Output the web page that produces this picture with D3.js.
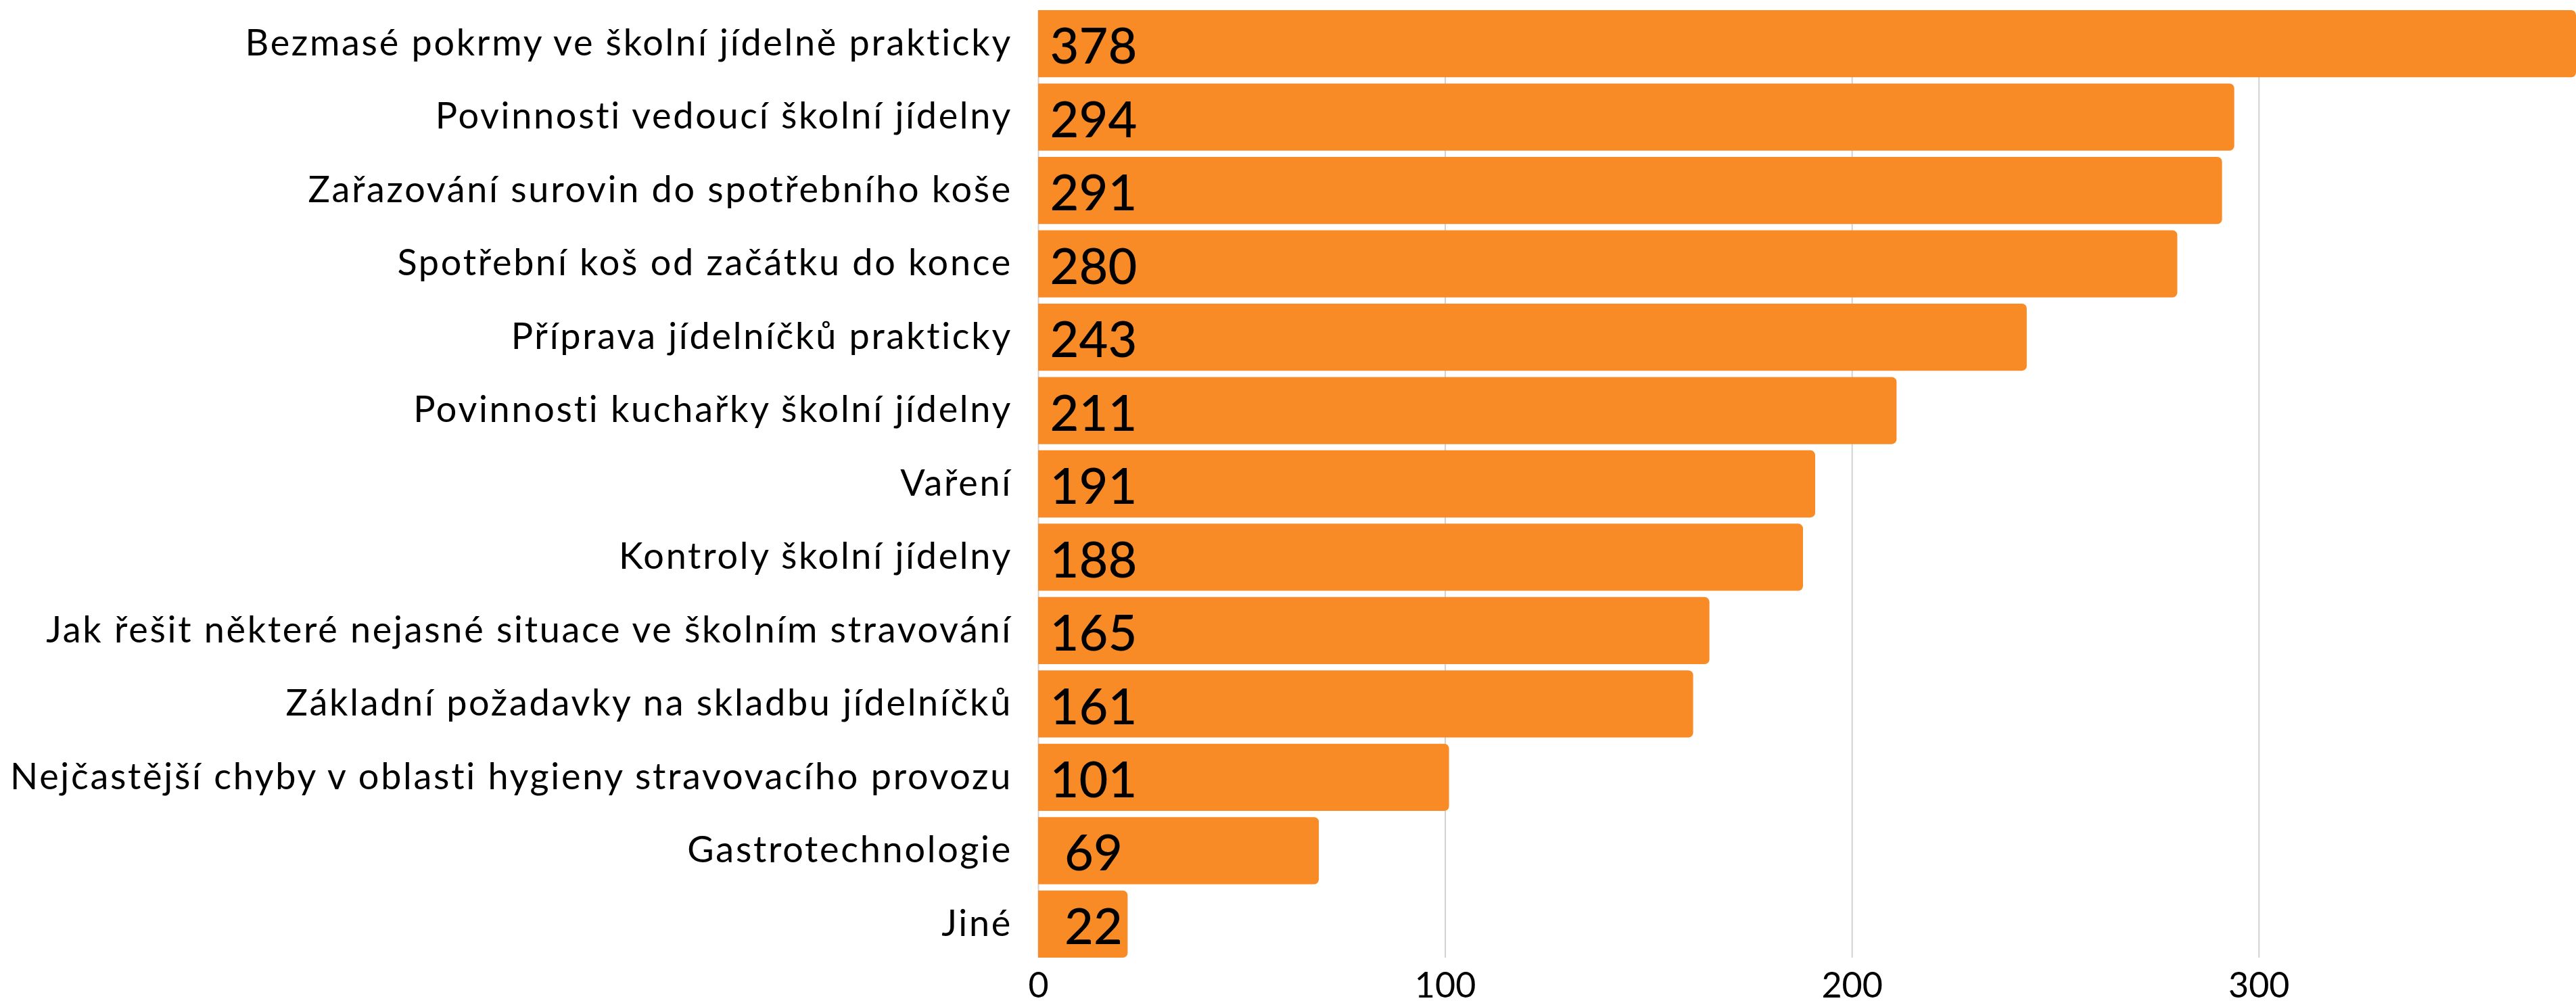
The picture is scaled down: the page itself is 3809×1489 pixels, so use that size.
<!DOCTYPE html>
<html><head><meta charset="utf-8">
<script src="https://cdn.jsdelivr.net/npm/d3@7/dist/d3.min.js"></script>
<style>body{margin:0;background:#fff;} svg{display:block}</style>
</head><body>
<script>
const categories = [
  "Bezmasé pokrmy ve školní jídelně prakticky",
  "Povinnosti vedoucí školní jídelny",
  "Zařazování surovin do spotřebního koše",
  "Spotřební koš od začátku do konce",
  "Příprava jídelníčků prakticky",
  "Povinnosti kuchařky školní jídelny",
  "Vaření",
  "Kontroly školní jídelny",
  "Jak řešit některé nejasné situace ve školním stravování",
  "Základní požadavky na skladbu jídelníčků",
  "Nejčastější chyby v oblasti hygieny stravovacího provozu",
  "Gastrotechnologie",
  "Jiné"
];
const values = [378, 294, 291, 280, 243, 211, 191, 188, 165, 161, 101, 69, 22];
const tickValues = [0, 100, 200, 300];

const W = 3809, H = 1489;
const FONT = "Lato, 'Open Sans', sans-serif";
const svg = d3.select("body").append("svg").attr("width", W).attr("height", H);

const x = d3.scaleLinear().domain([0, 378]).range([1535, 3809]);
const y = d3.scaleBand().domain(categories).range([15, 1416]).paddingInner(0.085).paddingOuter(0);

// gridlines
const grid = svg.append("g").attr("transform", `translate(0,${y.range()[1]})`)
  .call(d3.axisBottom(x).tickValues(tickValues).tickSize(-(y.range()[1] - y.range()[0])).tickFormat(""));
grid.select(".domain").remove();
grid.selectAll("line").attr("stroke", "#d2d2d2").attr("stroke-width", 2);

// tick labels
const xa = svg.append("g").attr("transform", `translate(0,${y.range()[1]})`)
  .call(d3.axisBottom(x).tickValues(tickValues).tickSize(0).tickPadding(22));
xa.select(".domain").remove();
xa.selectAll("text").attr("font-family", FONT).attr("font-size", 52).attr("fill", "#000");

// bars
function barPath(x0, y0, w, h, r) {
  r = Math.min(r, w / 2, h / 2);
  return `M${x0},${y0}H${x0 + w - r}A${r},${r} 0 0 1 ${x0 + w},${y0 + r}V${y0 + h - r}A${r},${r} 0 0 1 ${x0 + w - r},${y0 + h}H${x0}Z`;
}
const data = categories.map((c, i) => ({ c, v: values[i] }));
svg.append("g").selectAll("path").data(data).join("path")
  .attr("d", d => barPath(x(0), y(d.c), x(d.v) - x(0), y.bandwidth(), 7))
  .attr("fill", "#f98b27");

// value labels
svg.append("g").selectAll("text").data(data).join("text")
  .attr("x", x(0) + 82)
  .attr("y", d => y(d.c) + y.bandwidth() / 2)
  .attr("dy", "0.4em")
  .attr("text-anchor", "middle")
  .attr("font-family", FONT).attr("font-size", 74).attr("font-weight", 500)
  .attr("fill", "#000")
  .text(d => d.v);

// category labels
const ya = svg.append("g").attr("transform", `translate(${x(0)},0)`)
  .call(d3.axisLeft(y).tickSize(0).tickPadding(38));
ya.select(".domain").remove();
ya.selectAll("text").attr("font-family", FONT).attr("font-size", 54)
  .attr("letter-spacing", "2.7px").attr("fill", "#000");
</script>
</body></html>
